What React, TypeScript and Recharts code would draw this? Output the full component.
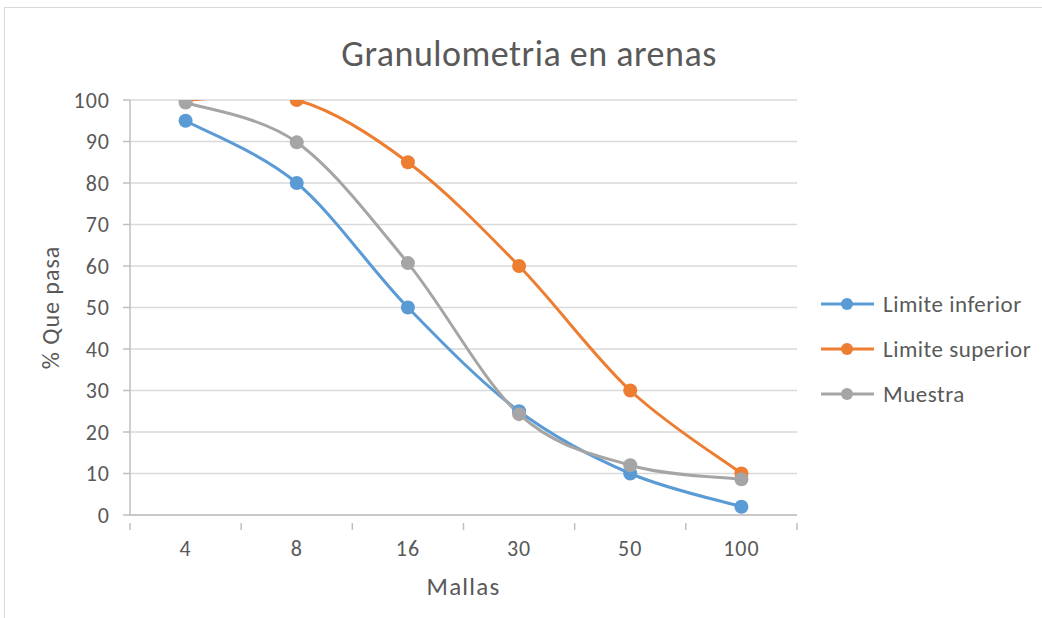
import React from 'react'
import {
  LineChart,
  Line,
  XAxis,
  YAxis,
  CartesianGrid,
  Legend,
} from 'recharts'

// Tamices (número de malla) y % que pasa por cada serie
const mallas = ['4', '8', '16', '30', '50', '100']
const limiteInferior = [95, 80, 50, 25, 10, 2]
const limiteSuperior = [100, 100, 85, 60, 30, 10]
const muestra = [99.4, 89.8, 60.7, 24.3, 12, 8.6]
const yTicks = [0, 10, 20, 30, 40, 50, 60, 70, 80, 90, 100]

const FONT = 'Calibri, Carlito, "Open Sans", sans-serif'
const TEXT = '#595959'
const AXIS = '#bfbfbf'

const series = [
  { key: 'inferior', name: 'Limite inferior', color: '#5B9BD5' },
  { key: 'superior', name: 'Limite superior', color: '#ED7D31' },
  { key: 'muestra', name: 'Muestra', color: '#A5A5A5' },
]

// posición 1..6 en un eje numérico para poder poner marcas entre categorías
const data = mallas.map((m, i) => ({
  pos: i + 1,
  malla: m,
  inferior: limiteInferior[i],
  superior: limiteSuperior[i],
  muestra: muestra[i],
}))

const xTicks: number[] = []
for (let i = 0; i <= mallas.length * 2; i++) xTicks.push(0.5 + i * 0.5)

// curva suavizada tipo Excel: bezier con puntos de control a 1/6 de la tangente
function smoothCurve(context: any) {
  let xs: number[] = []
  let ys: number[] = []
  return {
    areaStart() {},
    areaEnd() {},
    lineStart() {
      xs = []
      ys = []
    },
    point(x: number, y: number) {
      xs.push(+x)
      ys.push(+y)
    },
    lineEnd() {
      const n = xs.length
      if (!n) return
      context.moveTo(xs[0], ys[0])
      for (let i = 0; i < n - 1; i++) {
        const a = Math.max(i - 1, 0)
        const b = Math.min(i + 2, n - 1)
        context.bezierCurveTo(
          xs[i] + (xs[i + 1] - xs[a]) / 6,
          ys[i] + (ys[i + 1] - ys[a]) / 6,
          xs[i + 1] - (xs[b] - xs[i]) / 6,
          ys[i + 1] - (ys[b] - ys[i]) / 6,
          xs[i + 1],
          ys[i + 1],
        )
      }
    },
  }
}

function MallaTick(props: any) {
  const { x, y, payload } = props
  const v = payload.value as number
  if (Number.isInteger(v)) {
    return (
      <text
        x={x}
        y={y + 33}
        textAnchor="middle"
        fill={TEXT}
        fontSize={22}
        fontFamily={FONT}
        style={{ letterSpacing: 1 }}
      >
        {mallas[v - 1]}
      </text>
    )
  }
  return <line x1={x} x2={x} y1={y} y2={y + 7} stroke={AXIS} strokeWidth={1.5} />
}

function LegendBox() {
  return (
    <div style={{ fontFamily: FONT, fontSize: 23, color: TEXT, letterSpacing: 0.5 }}>
      {series.map(s => (
        <div key={s.key} style={{ display: 'flex', alignItems: 'center', height: 45 }}>
          <svg width={60} height={20} style={{ marginRight: 4 }}>
            <line x1={2} x2={55} y1={10} y2={10} stroke={s.color} strokeWidth={3} />
            <circle cx={28} cy={10} r={6} fill={s.color} />
          </svg>
          <span>{s.name}</span>
        </div>
      ))}
    </div>
  )
}

export default function App() {
  return (
    <div
      style={{
        position: 'absolute',
        left: 4,
        top: 7,
        width: 1060,
        height: 620,
        border: '1px solid #d9d9d9',
        background: '#fff',
      }}
    >
      <div
        style={{
          position: 'absolute',
          left: 0,
          width: 1048,
          top: 24,
          textAlign: 'center',
          fontFamily: FONT,
          fontSize: 36,
          letterSpacing: 0.5,
          color: TEXT,
        }}
      >
        Granulometria en arenas
      </div>
      <LineChart
        width={1038}
        height={610}
        data={data}
        margin={{ top: 92, right: 26, bottom: 23, left: 45 }}
      >
        <CartesianGrid horizontal vertical={false} stroke="#d9d9d9" strokeWidth={1.3} />
        <XAxis
          type="number"
          dataKey="pos"
          domain={[0.5, 6.5]}
          ticks={xTicks}
          interval={0}
          tickLine={false}
          tick={<MallaTick />}
          axisLine={{ stroke: AXIS, strokeWidth: 1.5 }}
          height={80}
          label={{
            value: 'Mallas',
            position: 'insideBottom',
            offset: 0,
            fill: TEXT,
            fontSize: 25,
            fontFamily: FONT,
            style: { letterSpacing: 1.2 },
          }}
        />
        <YAxis
          domain={[0, 100]}
          allowDataOverflow
          ticks={yTicks}
          interval={0}
          width={80}
          axisLine={{ stroke: AXIS, strokeWidth: 1.5 }}
          tickLine={{ stroke: AXIS, strokeWidth: 1.5 }}
          tickSize={7}
          tickMargin={13}
          tick={{ fill: TEXT, fontSize: 22, fontFamily: FONT, style: { letterSpacing: 1 } }}
          label={{
            value: '% Que pasa',
            angle: -90,
            position: 'insideLeft',
            offset: 0,
            style: { textAnchor: 'middle', letterSpacing: 1 },
            fill: TEXT,
            fontSize: 24,
            fontFamily: FONT,
          }}
        />
        <Legend
          layout="vertical"
          verticalAlign="top"
          align="right"
          content={<LegendBox />}
          wrapperStyle={{ left: 814, top: 273, width: 220 }}
        />
        {series.map(s => (
          <Line
            key={s.key}
            type={smoothCurve as any}
            dataKey={s.key}
            name={s.name}
            stroke={s.color}
            strokeWidth={3}
            dot={{ r: 7, fill: s.color, stroke: s.color, strokeWidth: 0 }}
            activeDot={false}
            isAnimationActive={false}
          />
        ))}
      </LineChart>
    </div>
  )
}
